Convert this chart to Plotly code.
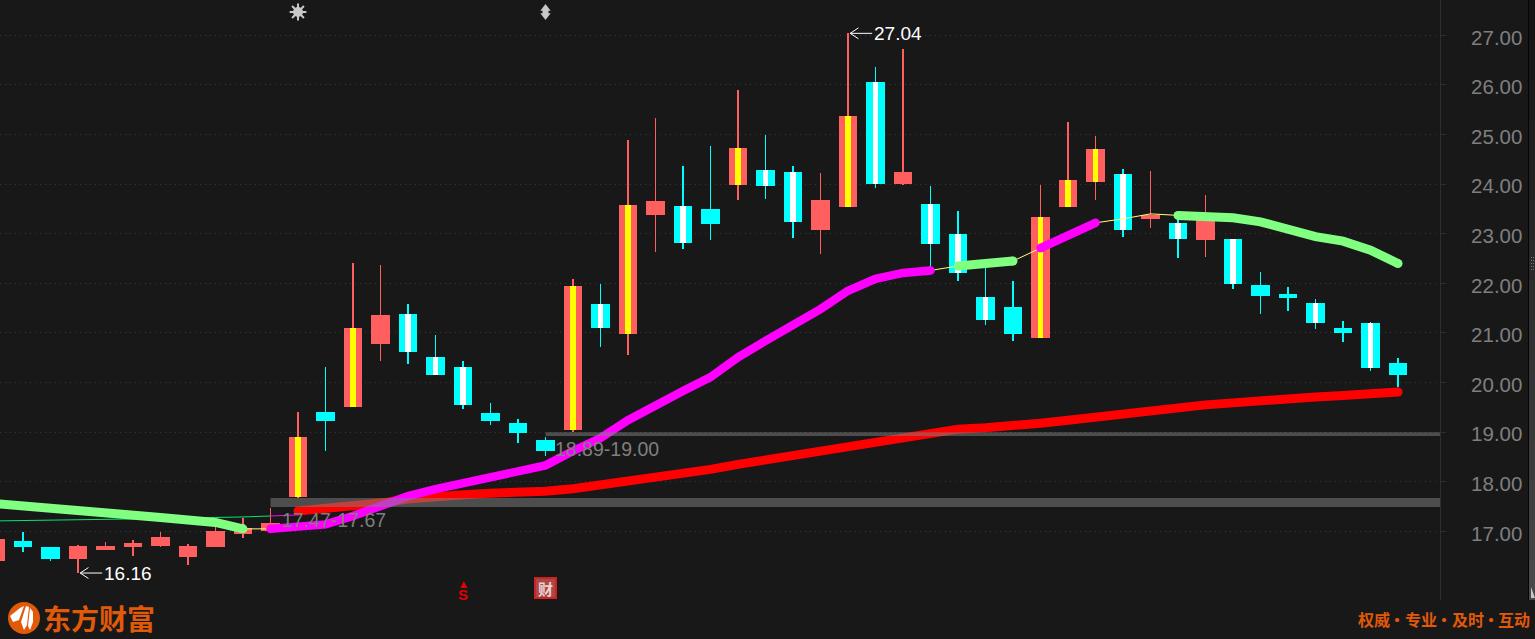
import plotly.graph_objects as go

# ---------- data ----------
highs = [16.85,16.99,16.69,16.73,16.79,16.83,16.99,16.74,17.25,17.27,17.47,19.41,20.31,22.41,22.37,21.58,20.96,20.43,19.59,19.26,
         18.90,22.09,21.99,24.89,25.33,24.37,24.77,25.90,24.99,24.37,24.22,27.04,26.36,26.72,23.96,23.46,22.33,22.05,23.98,25.26,
         24.97,24.30,24.26,23.36,23.78,22.89,22.23,21.93,21.68,21.24,21.22,20.50]
tops = [16.85,16.81,16.69,16.70,16.70,16.77,16.89,16.70,17.00,17.07,17.17,18.90,19.41,21.10,21.36,21.38,20.51,20.31,19.39,19.18,
        18.84,21.95,21.58,23.58,23.66,23.56,23.50,24.73,24.29,24.24,23.68,25.37,26.06,24.24,23.60,22.99,21.72,21.52,23.34,24.08,
        24.71,24.20,23.38,23.22,23.36,22.89,21.97,21.78,21.60,21.10,21.20,20.39]
bottoms = [16.40,16.69,16.44,16.44,16.62,16.69,16.70,16.48,16.69,16.95,17.00,17.69,19.22,19.51,20.78,20.62,20.15,19.55,19.22,18.98,
           18.62,19.04,21.10,20.98,23.38,22.81,23.20,23.98,23.96,23.24,23.08,23.54,24.00,24.00,22.79,22.21,21.26,20.98,20.90,23.54,
           24.04,23.08,23.30,22.89,22.87,21.99,21.74,21.70,21.20,21.00,20.29,20.15]
lows = [16.40,16.58,16.40,16.16,16.62,16.50,16.69,16.32,16.69,16.87,16.99,17.67,18.62,19.51,20.43,20.37,20.15,19.47,19.14,18.78,
        18.52,19.00,20.72,20.55,22.63,22.69,22.87,23.68,23.70,22.91,22.59,23.54,23.92,23.98,22.27,22.05,21.16,20.84,20.90,23.54,
        23.68,22.93,23.12,22.51,22.53,21.89,21.38,21.44,21.08,20.82,20.23,19.91]
rising = [0,3,4,5,6,7,8,9,10,11,13,14,21,23,24,27,30,31,33,38,39,40,42,44]
yellow_core = [11,13,21,23,27,31,38,39,40]
white_core = [15,16,17,22,25,28,29,32,34,35,36,41,43,45,48,50]

ma_mid = [17.56,17.52,17.48,17.43,17.38,17.33,17.28,17.23,17.18,17.05,17.05,17.08,17.14,17.31,17.53,17.71,17.85,17.98,18.10,18.22,
          18.33,18.62,18.88,19.24,19.55,19.83,20.11,20.51,20.84,21.14,21.48,21.85,22.09,22.21,22.26,22.35,22.40,22.45,22.71,22.95,
          23.22,23.30,23.40,23.37,23.34,23.32,23.24,23.10,22.94,22.85,22.67,22.40]
green_runs = [(0,9),(35,37),(43,51)]
magenta_runs = [(10,34),(38,40)]
yellow_runs = [(9,10),(34,35),(37,38),(40,43)]

ma_long_start = 11
ma_long = [17.41,17.45,17.50,17.57,17.65,17.71,17.74,17.77,17.78,17.81,17.86,17.93,18.01,18.10,18.18,18.25,18.35,18.44,18.52,18.60,
           18.70,18.81,18.90,19.00,19.06,19.09,19.12,19.18,19.24,19.31,19.37,19.43,19.49,19.55,19.59,19.64,19.69,19.71,19.74,19.77,19.81]
thin_green = [17.21,17.22,17.23,17.23,17.24,17.25,17.25,17.27,17.28,17.29,17.31]
thin_magenta = [17.31,17.33]

zones = [(10,17.49,17.67,"17.47-17.67"),(20,18.92,19.00,"18.89-19.00")]
tick_vals = [17,18,19,20,21,22,23,24,25,26,27]
tick_text = ["17.00","18.00","19.00","20.00","21.00","22.00","23.00","24.00","25.00","26.00","27.00"]
slogan_words = ["权威","专业","及时","互动"]

# ---------- styles ----------
BG="#181818"; RED="#ff5f5f"; CYAN="#00ffff"
n=len(highs); idx=list(range(n))
fig=go.Figure()

def wicks(sel,color):
    fig.add_trace(go.Bar(x=sel,base=[lows[i] for i in sel],y=[highs[i]-lows[i] for i in sel],
                         width=0.036,marker=dict(color=color,line=dict(width=0)),hoverinfo="skip"))
def bodies(sel,color,w):
    fig.add_trace(go.Bar(x=sel,base=[bottoms[i] for i in sel],y=[tops[i]-bottoms[i] for i in sel],
                         width=w,marker=dict(color=color,line=dict(width=0)),hoverinfo="skip"))

falling=[i for i in idx if i not in rising]
wicks(rising,RED); wicks(falling,CYAN)
bodies(rising,RED,0.69); bodies(falling,CYAN,0.69)

def line(x,y,color,w,caps=True):
    fig.add_trace(go.Scatter(x=x,y=y,mode="lines",line=dict(color=color,width=w),hoverinfo="skip"))
    if caps:
        fig.add_trace(go.Scatter(x=[x[0],x[-1]],y=[y[0],y[-1]],mode="markers",
                                 marker=dict(color=color,size=w,line=dict(width=0)),hoverinfo="skip"))

line(list(range(len(thin_green))),thin_green,"#00e676",1,False)
line([10,11],thin_magenta,"#ff00ff",1,False)
line(list(range(ma_long_start,n)),ma_long,"#ff0000",9)
for a,b in yellow_runs:
    line(list(range(a,b+1)),ma_mid[a:b+1],"#ffff80",1,False)
for a,b in green_runs:
    line(list(range(a,b+1)),ma_mid[a:b+1],"#80ff80",9)
for a,b in magenta_runs:
    line(list(range(a,b+1)),ma_mid[a:b+1],"#ff00ff",8.5)

bodies(yellow_core,"#ffff00",0.2)
bodies(white_core,"#ffffff",0.2)

# event markers at the top of the chart
MK="#c8c8c8"
fig.add_trace(go.Scatter(x=[11],y=[27.47],mode="markers",marker=dict(symbol="circle",size=10,color=MK),hoverinfo="skip"))
fig.add_trace(go.Scatter(x=[11],y=[27.47],mode="markers",marker=dict(symbol="asterisk-open",size=14,color=MK,line=dict(color=MK,width=2)),hoverinfo="skip"))
fig.add_trace(go.Scatter(x=[20,20],y=[27.54,27.40],mode="markers",
    marker=dict(symbol=["triangle-up","triangle-down"],size=9,color=MK,line=dict(width=0)),hoverinfo="skip"))
fig.add_trace(go.Scatter(x=[20],y=[27.47],mode="markers",marker=dict(symbol="square",size=6,color=MK,line=dict(width=0)),hoverinfo="skip"))

X0=0.1636; X1=52.527
shapes=[]
for start,lo,hi,_ in zones:
    shapes.append(dict(type="rect",xref="x",yref="y",x0=start,x1=X1,y0=lo,y1=hi,fillcolor="rgba(130,130,130,0.5)",line=dict(width=0),layer="above"))

def px(x0,y0,x1,y1,color,lc=None):
    return dict(type="rect",xref="paper",yref="paper",x0=x0/1440,x1=x1/1440,y0=1-y0/600,y1=1-y1/600,fillcolor=color,
                line=dict(width=2,color=lc) if lc else dict(width=0),layer="above")
# scroll strip at the far right
shapes.append(px(1528,0,1529,600,"#050505"))
steps=15
for s in range(steps):
    v=int(0x14+(0x48-0x14)*s/(steps-1))
    shapes.append(px(1529,s*40,1535,(s+1)*40,f"rgb({v},{v},{v})"))
shapes.append(dict(type="path",xref="paper",yref="paper",line=dict(width=0),fillcolor="#c8c8c8",layer="above",
    path=f"M {1531/1440} {1-587/600} L {1535/1440} {1-598/600} L {1531/1440} {1-598/600} Z"))
for yy in (257,260,263,266,269):
    shapes.append(px(1531,yy,1532,yy+1,"#777777")); shapes.append(px(1533,yy,1534,yy+1,"#777777"))
# logo
shapes.append(dict(type="circle",xref="paper",yref="paper",x0=8/1440,x1=40/1440,y0=1-602/600,y1=1-634/600,fillcolor="#e05a0a",line=dict(width=0),layer="above"))
def p(xp,yp): return f"{xp/1440} {1-yp/600}"
for pts in ([(10,616),(20,608),(24,606),(19,620),(13,622)],
            [(21,622),(26,606),(29,607),(27,625),(24,630)],
            [(28,626),(30,608),(33,612),(33,622),(30,630)]):
    path="M "+" L ".join(p(*q) for q in pts)+" Z"
    shapes.append(dict(type="path",xref="paper",yref="paper",path=path,fillcolor="#ffffff",line=dict(width=0),layer="above"))
# "财" badge
shapes.append(px(535,578,556,598,"#a84a4a","#d02020"))

anns=[]
def ptext(t,x,y,size,color,family="Liberation Sans",bold=False,anchor="left"):
    anns.append(dict(text=f"<b>{t}</b>" if bold else t,xref="paper",yref="paper",x=x/1440,y=1-y/600,xanchor=anchor,yanchor="middle",
                     showarrow=False,font=dict(size=size,color=color,family=family)))
CJK="Noto Sans CJK SC"
ORANGE="#e05a0a"
ptext("东方财富",41,618,28,ORANGE,CJK,True)
for word,xw in zip(slogan_words,(1356,1403,1450,1496)):
    ptext(word,xw,619,16,ORANGE,CJK,True)
for xd in (1397,1444,1491):
    ptext("·",xd,619,16,ORANGE,CJK,True,"center")
anns.append(dict(text="<b>S</b>",xref="x",yref="paper",x=17,y=1-594/600,showarrow=False,font=dict(size=15,color="#e00000",family="Liberation Sans"),yanchor="middle"))
anns.append(dict(text="▲",xref="x",yref="paper",x=17,y=1-584/600,showarrow=False,font=dict(size=9,color="#e00000",family="DejaVu Sans"),yanchor="middle"))
ptext("财",545.5,588,15,"#f0d0d0",CJK,True,"center")
# zone labels
anns.append(dict(text=zones[0][3],xref="x",yref="y",x=zones[0][0]+0.36,y=17.22,xanchor="left",yanchor="middle",showarrow=False,font=dict(size=19.5,color="#7f7f7f",family="Liberation Sans")))
anns.append(dict(text=zones[1][3],xref="x",yref="y",x=zones[1][0]+0.27,y=18.66,xanchor="left",yanchor="middle",showarrow=False,font=dict(size=19.5,color="#7f7f7f",family="Liberation Sans")))
# high / low labels with hand-drawn open arrows
hi_i=max(idx,key=lambda i:highs[i]); lo_i=min(idx,key=lambda i:lows[i])
for i,v in ((hi_i,highs[hi_i]),(lo_i,lows[lo_i])):
    anns.append(dict(text=f"{v:.2f}",xref="x",yref="y",x=i+0.87,y=v,showarrow=False,xanchor="left",yanchor="middle",
                     font=dict(size=19,color="#ffffff",family="Liberation Sans")))
    tip=i+0.08
    for x1_,y1_ in ((i+0.88,v),(tip+0.3,v+0.11),(tip+0.3,v-0.11)):
        shapes.append(dict(type="line",xref="x",yref="y",x0=tip,y0=v,x1=x1_,y1=y1_,line=dict(color="#ffffff",width=1),layer="above"))

fig.update_layout(width=1535,height=639,margin=dict(l=0,r=95,t=0,b=39),autosize=False,
    paper_bgcolor=BG,plot_bgcolor=BG,showlegend=False,barmode="overlay",bargap=0,
    xaxis=dict(range=[X0,X1],visible=False,fixedrange=True),
    yaxis=dict(range=[15.616,27.712],side="right",tickmode="array",tickvals=tick_vals,ticktext=tick_text,
               showgrid=True,gridcolor="#383838",griddash="1px,4px",gridwidth=1,zeroline=False,
               showline=True,linecolor="#2e2e2e",linewidth=1,ticks="outside",ticklen=5,tickcolor="#2e2e2e",
               ticklabelstandoff=21,ticklabelshift=2,tickfont=dict(size=20.5,color="#7f7f7f",family="Liberation Sans"),fixedrange=True),
    shapes=shapes,annotations=anns)
fig.write_html("out.html",config=dict(displayModeBar=False),
    post_script="document.body.style.margin='0';document.body.style.background='#181818';document.body.style.overflow='hidden';")
